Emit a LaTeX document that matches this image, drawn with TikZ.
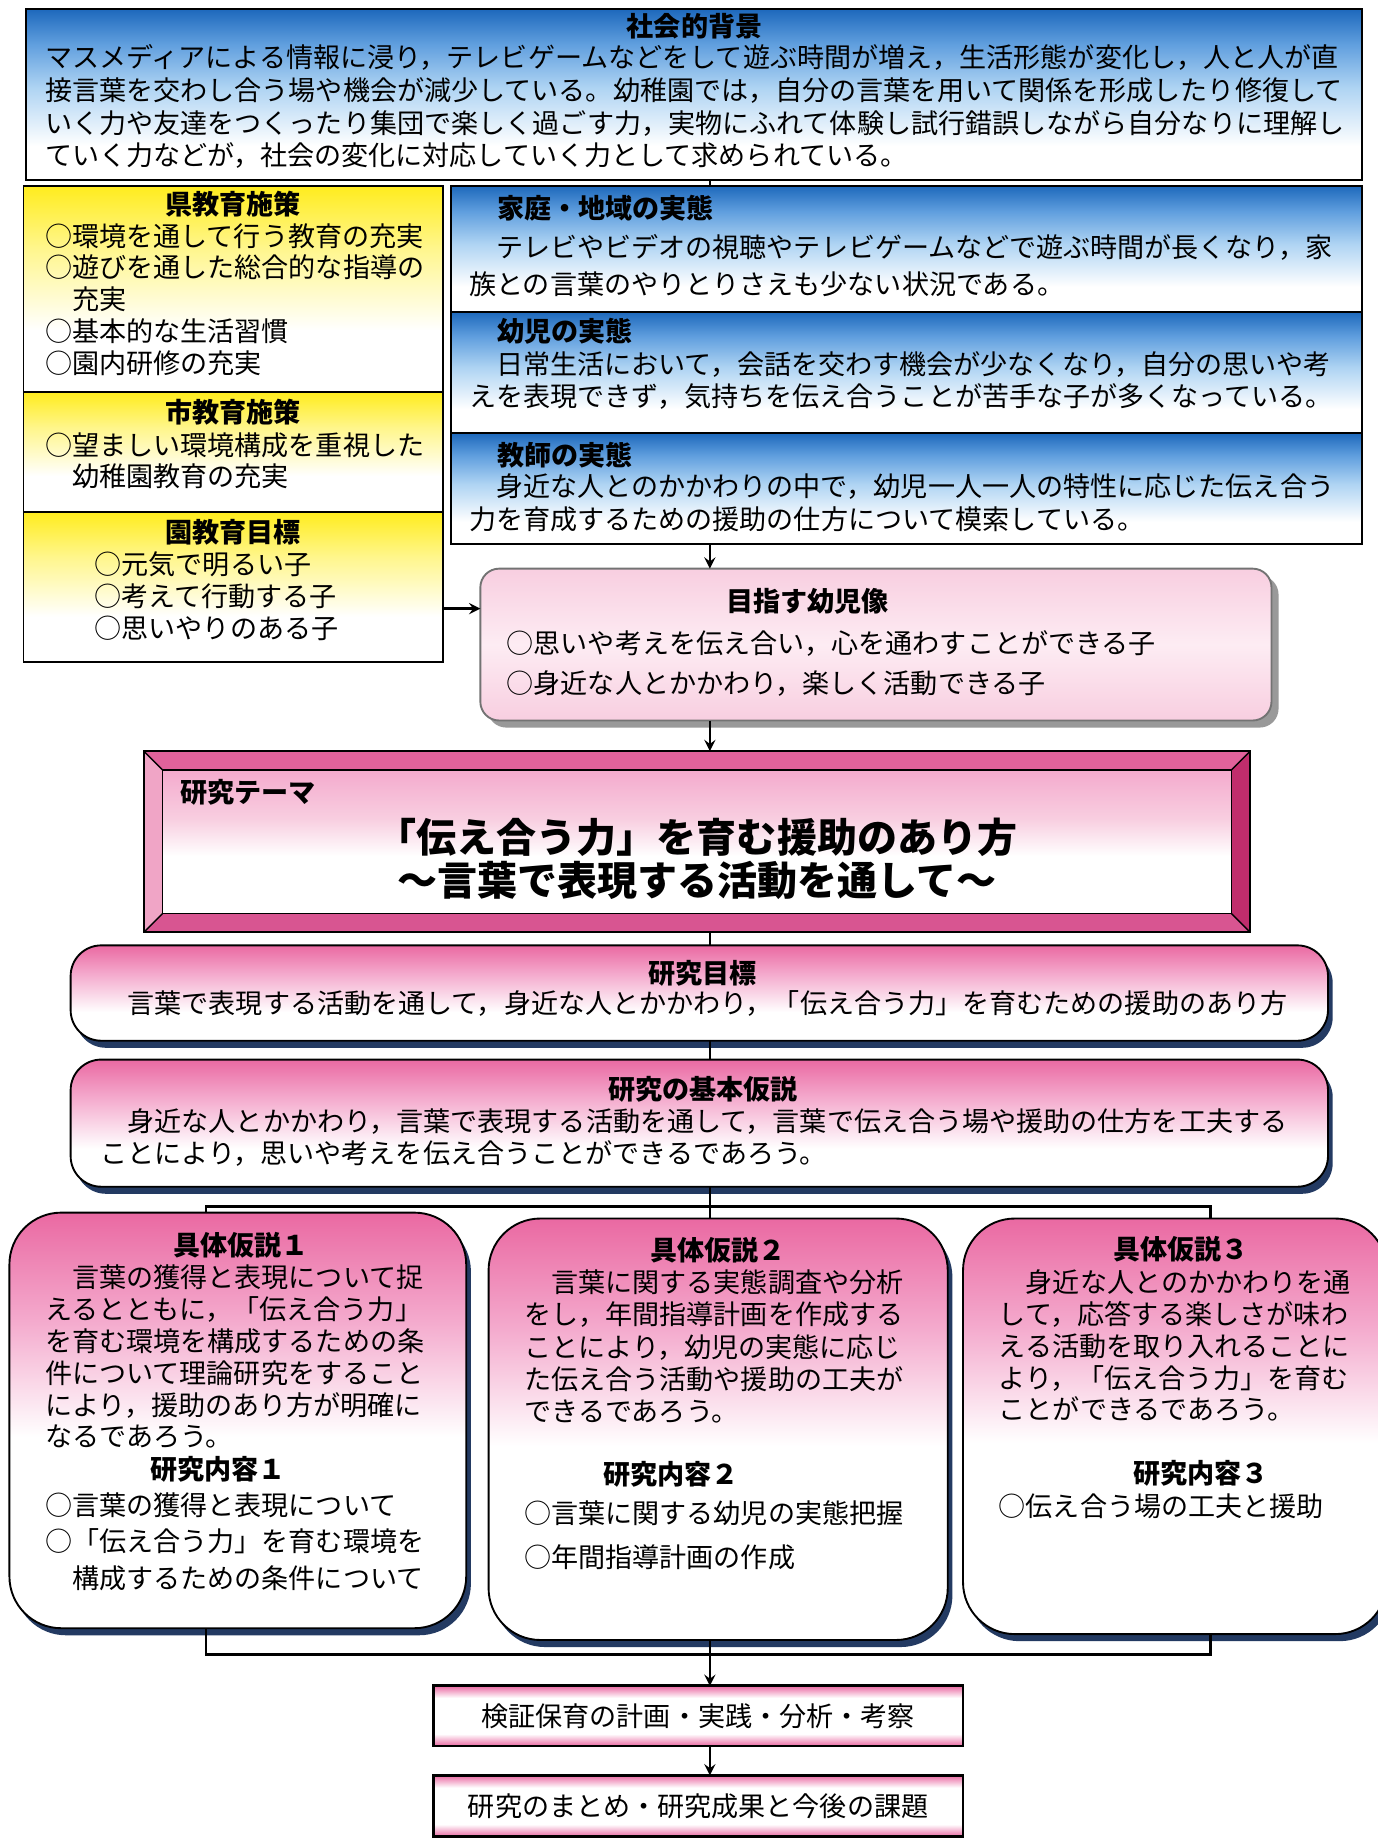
\documentclass[tikz,border=0pt]{standalone}
\usepackage{fontspec}
\setmainfont{Noto Sans CJK JP}
\usetikzlibrary{positioning,shadows}

\definecolor{blueTop}{RGB}{30,105,188}
\definecolor{blueMid}{RGB}{95,158,222}
\definecolor{blueLight}{RGB}{175,212,243}
\definecolor{yellowTop}{RGB}{255,236,30}
\definecolor{yellowMid}{RGB}{255,246,140}
\definecolor{pinkTop}{RGB}{234,105,162}
\definecolor{pinkMid}{RGB}{244,170,205}
\definecolor{pinkPale}{RGB}{248,206,224}
\definecolor{pinkWhite}{RGB}{253,236,243}
\definecolor{bevelTop}{RGB}{225,98,155}
\definecolor{bevelLeft}{RGB}{240,165,198}
\definecolor{bevelRight}{RGB}{192,45,108}
\definecolor{bevelBottom}{RGB}{216,85,145}
\definecolor{navyShadow}{RGB}{35,58,98}

% fades for the boxes (0bp is the bottom side, 100bp the top)
\pgfdeclareverticalshading{bluefade}{100bp}{color(0bp)=(white); color(35bp)=(white); color(52bp)=(blueLight); color(65bp)=(blueMid); color(75bp)=(blueTop); color(100bp)=(blueTop)}
\pgfdeclareverticalshading{yellowfade}{100bp}{color(0bp)=(white); color(40bp)=(white); color(60bp)=(yellowMid); color(75bp)=(yellowTop); color(100bp)=(yellowTop)}
\pgfdeclareverticalshading{pinkfade}{100bp}{color(0bp)=(white); color(40bp)=(white); color(60bp)=(pinkMid); color(75bp)=(pinkTop); color(100bp)=(pinkTop)}
\pgfdeclareverticalshading{casefade}{100bp}{color(0bp)=(white); color(48bp)=(white); color(62bp)=(pinkMid); color(75bp)=(pinkTop); color(100bp)=(pinkTop)}
\pgfdeclareverticalshading{softfade}{100bp}{color(0bp)=(pinkPale); color(25bp)=(pinkPale); color(50bp)=(pinkWhite); color(75bp)=(pinkPale); color(100bp)=(pinkPale)}
\pgfdeclareverticalshading{bandfade}{100bp}{color(0bp)=(pinkTop); color(25bp)=(pinkTop); color(35bp)=(white); color(65bp)=(white); color(75bp)=(pinkTop); color(100bp)=(pinkTop)}
\pgfdeclareverticalshading{themefade}{100bp}{color(0bp)=(white); color(25bp)=(white); color(45bp)=(white); color(58bp)=(pinkPale); color(75bp)=(pinkMid); color(100bp)=(pinkMid)}

\begin{document}
\begin{tikzpicture}[x=0.5pt,y=-0.5pt]
% Define styles (multi-line texts sit on the baseline of their last line)
\tikzstyle{txt} = [inner sep=0pt, font=\fontsize{11.5}{13.5}\selectfont]
\tikzstyle{body} = [txt, align=left, anchor=base west]
\tikzstyle{head} = [txt, anchor=base, font=\bfseries\fontsize{11.5}{13.5}\selectfont]
\tikzstyle{panel} = [rectangle, draw=black, line width=0.8pt, inner sep=0pt, outer sep=0pt]
\tikzstyle{bluebox} = [panel, shade, shading=bluefade]
\tikzstyle{yellowbox} = [panel, shade, shading=yellowfade]
\tikzstyle{roundbox} = [panel, rounded corners=13pt, shade, shading=pinkfade, drop shadow={shadow xshift=2pt, shadow yshift=-3pt, fill=navyShadow, opacity=1}]
\tikzstyle{casebox} = [roundbox, rounded corners=22pt, shading=casefade]
\tikzstyle{stepbox} = [panel, line width=1.2pt, shade, shading=bandfade, font=\fontsize{11.5}{13.5}\selectfont]
\tikzstyle{link} = [line width=1.1pt,->,>=stealth]
\tikzstyle{wire} = [line width=1.2pt]

\fill[white] (0,0) rectangle (1170,1568);
\useasboundingbox (0,0) rectangle (1170,1568);
\coordinate (axis) at (603,0);
\coordinate (left) at (175,0);
\coordinate (right) at (1028,0);

% Background of society
\node[bluebox, minimum width=567.5pt, minimum height=72.5pt] (society) at (589.5,80.5) {};
\node[head] (societyhead) at (590,31) {社会的背景};
\node[body, font=\fontsize{11.5}{14}\selectfont] (societytext) at (38,141) {マスメディアによる情報に浸り，テレビゲームなどをして遊ぶ時間が増え，生活形態が変化し，人と人が直\\接言葉を交わし合う場や機会が減少している。幼稚園では，自分の言葉を用いて関係を形成したり修復して\\いく力や友達をつくったり集団で楽しく過ごす力，実物にふれて体験し試行錯誤しながら自分なりに理解し\\ていく力などが，社会の変化に対応していく力として求められている。};

% Policies on the left
\node[yellowbox, minimum width=178pt, minimum height=87.5pt] (pref) at (198,245.5) {};
\node[yellowbox, minimum width=178pt, minimum height=51pt] (city) at (198,384) {};
\node[yellowbox, minimum width=178pt, minimum height=63.5pt] (goal) at (198,498.5) {};
\node[head] (prefhead) at (198,182) {県教育施策};
\node[body] (preftext) at (38,317) {○環境を通して行う教育の充実\\○遊びを通した総合的な指導の\\　充実\\○基本的な生活習慣\\○園内研修の充実};
\node[head] (cityhead) at (198,359) {市教育施策};
\node[body, font=\fontsize{11.5}{13}\selectfont] (citytext) at (38,413) {○望ましい環境構成を重視した\\　幼稚園教育の充実};
\node[head] (goalhead) at (198,461) {園教育目標};
\node[body] (goaltext) at (80,542) {○元気で明るい子\\○考えて行動する子\\○思いやりのある子};

% Present state on the right
\node[bluebox, minimum width=387pt, minimum height=53.5pt] (home) at (770,211.5) {};
\node[bluebox, minimum width=387pt, minimum height=51.5pt] (child) at (770,316.5) {};
\node[bluebox, minimum width=387pt, minimum height=47pt] (teacher) at (770,415) {};
\node[head, anchor=base west] (homehead) at (422,186) {家庭・地域の実態};
\node[body, font=\fontsize{11.5}{15.5}\selectfont] (hometext) at (398,250) {　テレビやビデオの視聴やテレビゲームなどで遊ぶ時間が長くなり，家\\族との言葉のやりとりさえも少ない状況である。};
\node[head, anchor=base west] (childhead) at (422,290) {幼児の実態};
\node[body] (childtext) at (398,345) {　日常生活において，会話を交わす機会が少なくなり，自分の思いや考\\えを表現できず，気持ちを伝え合うことが苦手な子が多くなっている。};
\node[head, anchor=base west] (teacherhead) at (422,395) {教師の実態};
\node[body, font=\fontsize{11.5}{14}\selectfont] (teachertext) at (398,450) {　身近な人とのかかわりの中で，幼児一人一人の特性に応じた伝え合う\\力を育成するための援助の仕方について模索している。};

% Aimed child image
\node[panel, rounded corners=8pt, draw=black!55, shade, shading=softfade, drop shadow={shadow xshift=3pt, shadow yshift=-3pt, fill=black!40, opacity=1}, minimum width=336pt, minimum height=64.5pt] (target) at (744,547.5) {};
\node[head] (targethead) at (686,519) {目指す幼児像};
\node[body, font=\fontsize{11.5}{17}\selectfont] (targettext) at (430,589) {○思いや考えを伝え合い，心を通わすことができる子\\○身近な人とかかわり，楽しく活動できる子};

% Theme frame with bevel
\node[panel, fill=bevelTop, minimum width=470pt, minimum height=77pt] (theme) at (592,715) {};
\fill[bevelLeft] (theme.north west) -- (592-454,715-61) -- (592-454,715+61) -- (theme.south west) -- cycle;
\fill[bevelRight] (theme.north east) -- (592+454,715-61) -- (592+454,715+61) -- (theme.south east) -- cycle;
\fill[bevelBottom] (theme.south west) -- (592-454,715+61) -- (592+454,715+61) -- (theme.south east) -- cycle;
\node[panel, line width=0.6pt, shade, shading=themefade, minimum width=454pt, minimum height=61pt] (themein) at (theme) {};
\draw[line width=0.6pt] (theme.north west) -- (themein.north west) (theme.north east) -- (themein.north east)
  (theme.south west) -- (themein.south west) (theme.south east) -- (themein.south east);
\draw[line width=0.8pt] (theme.north west) rectangle (theme.south east);
\node[head, anchor=base west] (themelabel) at (153,682) {研究テーマ};
\node[inner sep=0pt, anchor=base, align=center, font=\bfseries\fontsize{17}{18.5}\selectfont] (themetitle) at (592,761) {「伝え合う力」を育む援助のあり方\\～言葉で表現する活動を通して～};

% Aim and basic hypothesis
\node[roundbox, minimum width=534pt, minimum height=40.5pt] (aim) at (594,843.5) {};
\node[head] (aimhead) at (597,835) {研究目標};
\node[txt, anchor=base] (aimtext) at (601,861) {言葉で表現する活動を通して，身近な人とかかわり，「伝え合う力」を育むための援助のあり方};
\node[roundbox, minimum width=534pt, minimum height=54pt] (hypo) at (594,954) {};
\node[head] (hypohead) at (597,934) {研究の基本仮説};
\node[body] (hypotext) at (85,988) {　身近な人とかかわり，言葉で表現する活動を通して，言葉で伝え合う場や援助の仕方を工夫する\\ことにより，思いや考えを伝え合うことができるであろう。};

% Three concrete hypotheses
\node[casebox, minimum width=194pt, minimum height=176.5pt] (case1) at (202,1206.5) {};
\node[casebox, minimum width=195pt, minimum height=179pt] (case2) at (610,1214) {};
\node[casebox, minimum width=180pt, minimum height=176.5pt] (case3) at (998,1211.5) {};

\node[head] (case1head) at (205,1066) {具体仮説１};
\node[body] (case1text) at (38,1229) {　言葉の獲得と表現について捉\\えるとともに，「伝え合う力」\\を育む環境を構成するための条\\件について理論研究をすること\\により，援助のあり方が明確に\\なるであろう。};
\node[head] (case1sub) at (185,1257) {研究内容１};
\node[body, font=\fontsize{11.5}{15.5}\selectfont] (case1list) at (38,1349) {○言葉の獲得と表現について\\○「伝え合う力」を育む環境を\\　構成するための条件について};

\node[head] (case2head) at (610,1071) {具体仮説２};
\node[body, font=\fontsize{11.5}{13.7}\selectfont] (case2text) at (445,1207.5) {　言葉に関する実態調査や分析\\をし，年間指導計画を作成する\\ことにより，幼児の実態に応じ\\た伝え合う活動や援助の工夫が\\できるであろう。};
\node[head] (case2sub) at (570,1261) {研究内容２};
\node[body, font=\fontsize{11.5}{18.5}\selectfont] (case2list) at (445,1331) {○言葉に関する幼児の実態把握\\○年間指導計画の作成};

\node[head] (case3head) at (1003,1070) {具体仮説３};
\node[body] (case3text) at (848,1206) {　身近な人とのかかわりを通\\して，応答する楽しさが味わ\\える活動を取り入れることに\\より，「伝え合う力」を育む\\ことができるであろう。};
\node[head] (case3sub) at (1020,1260) {研究内容３};
\node[body] (case3list) at (848,1288) {○伝え合う場の工夫と援助};

% Practice and summary
\node[stepbox, minimum width=225pt, minimum height=25.5pt] (check) at (593,1457.5) {検証保育の計画・実践・分析・考察};
\node[stepbox, minimum width=225pt, minimum height=26pt, below=12.5pt of check] (summary) {研究のまとめ・研究成果と今後の課題};

% Draw connectors
\coordinate (side) at (0,517);
\coordinate (split) at (0,1025);
\coordinate (merge) at (0,1405);
\draw[wire] (society.south -| axis) -- (home.north -| axis);
\draw[link] (teacher.south -| axis) -- (target.north -| axis);
\draw[link] (goal.east |- side) -- (target.west |- side);
\draw[link] (target.south -| axis) -- (theme.north -| axis);
\draw[wire] (theme.south -| axis) -- (aim.north -| axis);
\draw[wire] (aim.south -| axis) -- (hypo.north -| axis);
\draw[wire] (hypo.south -| axis) -- (case2.north -| axis);
\draw[wire] (case1.north -| left) -- (split -| left) -- (split -| right) -- (case3.north -| right);
\draw[wire] (case1.south -| left) -- (merge -| left) -- (merge -| right) -- (case3.south -| right);
\draw[wire] (case2.south -| axis) -- (merge -| axis);
\draw[link] (merge -| axis) -- (check.north -| axis);
\draw[link] (check.south -| axis) -- (summary.north -| axis);
\end{tikzpicture}
\end{document}
